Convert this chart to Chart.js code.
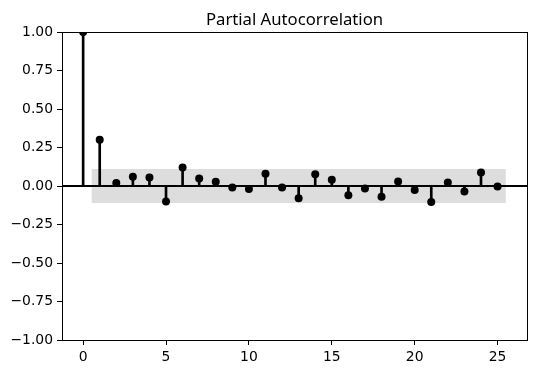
<!DOCTYPE html>
<html>
<head>
<meta charset="utf-8">
<script src="https://cdn.jsdelivr.net/npm/chart.js@4/dist/chart.umd.min.js"></script>
<style>
  html, body { margin: 0; padding: 0; background: #fff; }
  #wrap { width: 537px; height: 374px; }
</style>
</head>
<body>
<div id="wrap"><canvas id="pacfChart" width="537" height="374"></canvas></div>
<script>
// partial autocorrelation values, lag 0..25
const lags = [0, 1, 2, 3, 4, 5, 6, 7, 8, 9, 10, 11, 12, 13, 14, 15, 16, 17, 18, 19, 20, 21, 22, 23, 24, 25];
const pacf = [1.0, 0.30, 0.02, 0.06, 0.055, -0.10, 0.12, 0.048, 0.028, -0.01, -0.02, 0.08, -0.01, -0.08,
              0.076, 0.04, -0.06, -0.017, -0.07, 0.03, -0.026, -0.104, 0.022, -0.036, 0.087, -0.004];
// confidence band (95%)
const bandLags = [0.5, 25.5];
const confLimit = 0.11;
const xTicks = [0, 5, 10, 15, 20, 25];
const yTicks = [-1, -0.75, -0.5, -0.25, 0, 0.25, 0.5, 0.75, 1];
const xMin = -1.275, xMax = 26.775;
const title = 'Partial Autocorrelation';

Chart.defaults.color = '#000';
Chart.defaults.font.family = '"DejaVu Sans", sans-serif';

// top and right spines + title centred over the axes
const boxPlugin = {
    id: 'box',
    afterDraw(chart) {
        const a = chart.chartArea, ctx = chart.ctx;
        ctx.save();
        ctx.strokeStyle = '#000';
        ctx.lineWidth = 1;
        ctx.strokeRect(Math.round(a.left) + 0.5, Math.round(a.top) + 0.5,
            Math.round(a.right - a.left), Math.round(a.bottom - a.top));
        ctx.fillStyle = '#000';
        ctx.font = '16.7px "Noto Sans", "Open Sans", sans-serif';
        ctx.textAlign = 'center';
        ctx.textBaseline = 'alphabetic';
        ctx.fillText(title, (a.left + a.right) / 2, 24.5);
        ctx.restore();
    }
};

const ctx = document.getElementById('pacfChart').getContext('2d');
const pacfChart = new Chart(ctx, {
    type: 'scatter',
    data: {
        datasets: [
            {
                type: 'line',
                label: 'upper',
                data: bandLags.map(x => ({ x: x, y: confLimit })),
                borderWidth: 0,
                pointRadius: 0,
                backgroundColor: '#dddddd',
                fill: '+1',
                order: 5
            },
            {
                type: 'line',
                label: 'lower',
                data: bandLags.map(x => ({ x: x, y: -confLimit })),
                borderWidth: 0,
                pointRadius: 0,
                fill: false,
                order: 5
            },
            {
                type: 'line',
                label: 'zero',
                data: [{ x: xMin, y: 0 }, { x: xMax, y: 0 }],
                borderColor: '#000',
                borderWidth: 2,
                pointRadius: 0,
                clip: 0,
                order: 3
            },
            {
                type: 'bar',
                label: 'stems',
                data: lags.map((l, i) => ({ x: l, y: [0, pacf[i]] })),
                backgroundColor: '#000',
                barThickness: 2,
                order: 2
            },
            {
                type: 'scatter',
                label: 'PACF',
                data: lags.map((l, i) => ({ x: l, y: pacf[i] })),
                backgroundColor: '#000',
                borderWidth: 0,
                pointRadius: 4,
                clip: 0,
                order: 1
            }
        ]
    },
    options: {
        responsive: false,
        animation: false,
        layout: { padding: { left: 0, right: 10, top: 32, bottom: 0 } },
        plugins: {
            legend: { display: false },
            tooltip: { enabled: false },
            title: { display: false }
        },
        scales: {
            x: {
                type: 'linear',
                min: xMin,
                max: xMax,
                offset: false,
                afterBuildTicks: axis => { axis.ticks = xTicks.map(v => ({ value: v })); },
                afterFit: axis => { axis.height = 34; },
                grid: { display: true, drawOnChartArea: false, offset: false, tickLength: 5, tickColor: '#000', tickWidth: 1 },
                border: { display: false },
                ticks: { font: { size: 13.9 }, padding: 4, maxRotation: 0 }
            },
            y: {
                min: -1,
                max: 1,
                afterBuildTicks: axis => { axis.ticks = yTicks.map(v => ({ value: v })); },
                afterFit: axis => { axis.width = 62; },
                grid: { display: true, drawOnChartArea: false, tickLength: 5, tickColor: '#000', tickWidth: 1 },
                border: { display: false },
                ticks: {
                    font: { size: 13.9 },
                    padding: 4,
                    callback: v => v.toFixed(2).replace('-', '\u2212')
                }
            }
        }
    },
    plugins: [boxPlugin]
});
</script>
</body>
</html>
